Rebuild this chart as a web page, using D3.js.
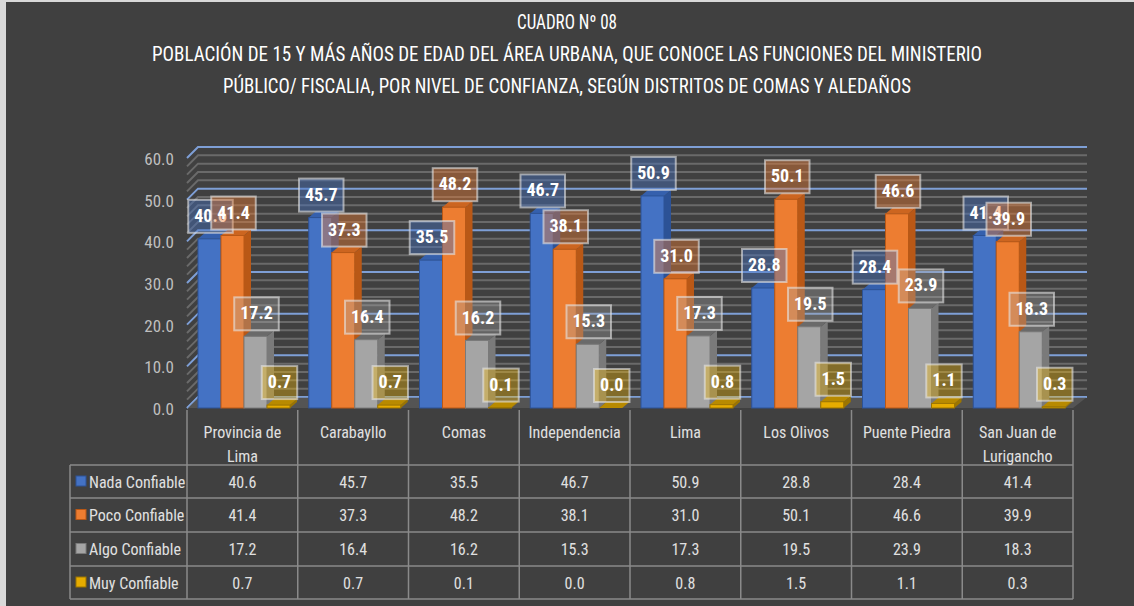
<!DOCTYPE html>
<html>
<head>
<meta charset="utf-8">
<script src="https://cdn.jsdelivr.net/npm/d3@7"></script>
<style>
  html, body { margin: 0; padding: 0; background: #ffffff; }
  svg text { font-family: "Liberation Sans Narrow", "Roboto Condensed", "Noto Sans", sans-serif; }
</style>
</head>
<body>
<div id="chart"></div>
<script>
// data
var categories = ["Provincia de Lima", "Carabayllo", "Comas", "Independencia", "Lima", "Los Olivos", "Puente Piedra", "San Juan de Lurigancho"];
var categoryLines = [["Provincia de", "Lima"], ["Carabayllo"], ["Comas"], ["Independencia"], ["Lima"], ["Los Olivos"], ["Puente Piedra"], ["San Juan de", "Lurigancho"]];
var seriesNames = ["Nada Confiable", "Poco Confiable", "Algo Confiable", "Muy Confiable"];
var nadaConfiable = [40.6, 45.7, 35.5, 46.7, 50.9, 28.8, 28.4, 41.4];
var pocoConfiable = [41.4, 37.3, 48.2, 38.1, 31.0, 50.1, 46.6, 39.9];
var algoConfiable = [17.2, 16.4, 16.2, 15.3, 17.3, 19.5, 23.9, 18.3];
var muyConfiable = [0.7, 0.7, 0.1, 0.0, 0.8, 1.5, 1.1, 0.3];
var yTicks = [0, 10, 20, 30, 40, 50, 60];
var titleLines = [
  "CUADRO Nº 08",
  "POBLACIÓN DE 15 Y MÁS AÑOS DE EDAD DEL ÁREA URBANA, QUE CONOCE LAS FUNCIONES DEL MINISTERIO",
  "PÚBLICO/ FISCALIA, POR NIVEL DE CONFIANZA, SEGÚN DISTRITOS DE COMAS Y ALEDAÑOS"
];

var seriesValues = [nadaConfiable, pocoConfiable, algoConfiable, muyConfiable];
var colors = [
  {front: "#4472c4", side: "#2c5296", top: "#3560ad", label: "rgba(68,114,196,0.42)"},
  {front: "#ed7d31", side: "#b95816", top: "#cc6520", label: "rgba(237,125,49,0.42)"},
  {front: "#a5a5a5", side: "#7a7a7a", top: "#6a6a6a", label: "rgba(165,165,165,0.35)"},
  {front: "#e6ac00", side: "#9c7500", top: "#b88a00", label: "rgba(255,192,0,0.35)"}
];

var width = 1134, height = 606;
var depthX = 11, depthY = -11;   // wall depth
var barDX = 7, barDY = -6;       // bar depth

var svg = d3.select("#chart").append("svg")
    .attr("width", width)
    .attr("height", height);

svg.append("rect")
    .attr("x", 0).attr("y", 0).attr("width", width).attr("height", height)
    .attr("fill", "#d9d9d9");
svg.append("rect")
    .attr("x", 6).attr("y", 2).attr("width", width - 6).attr("height", height - 2)
    .attr("fill", "#404040");

// title
var titleW = [100, 830, 688];
svg.selectAll(".title")
    .data(titleLines)
    .enter().append("text")
    .attr("class", "title")
    .attr("x", 567)
    .attr("y", function(d, i) { return 29 + i * 32; })
    .attr("text-anchor", "middle")
    .attr("fill", "#ffffff")
    .attr("font-size", 20)
    .attr("textLength", function(d, i) { return titleW[i]; })
    .attr("lengthAdjust", "spacingAndGlyphs")
    .text(function(d) { return d; });

var x = d3.scaleBand().domain(categories).range([187, 1073]);
var xSub = d3.scaleBand().domain(seriesNames).range([11, 11 + 92]);
var y = d3.scaleLinear().domain([0, 60]).range([408, 158]);

// walls: gridlines every 2, major every 10
var grid = d3.range(0, 61, 2);
var gridG = svg.append("g").attr("class", "grid");
gridG.selectAll("path")
    .data(grid)
    .enter().append("path")
    .attr("d", function(v) {
      var y0 = y(v);
      return "M187," + y0 + "L" + (187 + depthX) + "," + (y0 + depthY) + "L" + (1073 + 14) + "," + (y0 + depthY);
    })
    .attr("fill", "none")
    .attr("stroke", function(v) { return v % 10 === 0 ? "#7e9fd6" : "#6a6a6a"; })
    .attr("stroke-width", 2);

// floor
svg.append("path")
    .attr("d", "M187,408L1073,408L1087,397L198,397Z")
    .attr("fill", "#545454");
svg.append("line")
    .attr("x1", 198).attr("x2", 1087).attr("y1", 397).attr("y2", 397)
    .attr("stroke", "#7e9fd6").attr("stroke-width", 1.5);
svg.append("line")
    .attr("x1", 187).attr("x2", 198).attr("y1", 408).attr("y2", 397)
    .attr("stroke", "#7e9fd6").attr("stroke-width", 1.5);

// y axis labels
svg.selectAll(".ytick")
    .data(yTicks)
    .enter().append("text")
    .attr("class", "ytick")
    .attr("x", 174)
    .attr("y", function(v) { return y(v) + 7; })
    .attr("text-anchor", "end")
    .attr("fill", "#bfbfbf")
    .attr("font-size", 17)
    .text(function(v) { return v.toFixed(1); });

// bars
var bars = [];
seriesValues.forEach(function(vals, s) {
  vals.forEach(function(v, c) {
    bars.push({s: s, c: c, v: v});
  });
});

var barG = svg.append("g").attr("class", "bars");
var barW = xSub.bandwidth();
var bar = barG.selectAll("g")
    .data(bars)
    .enter().append("g");

function bx(d) { return x(categories[d.c]) + xSub(seriesNames[d.s]); }

bar.append("path")  // side
    .attr("d", function(d) {
      var x0 = bx(d) + barW, y0 = y(d.v), yb = y(0);
      return "M" + x0 + "," + yb + "L" + (x0 + barDX) + "," + (yb + barDY) +
             "L" + (x0 + barDX) + "," + (y0 + barDY) + "L" + x0 + "," + y0 + "Z";
    })
    .attr("fill", function(d) { return colors[d.s].side; });
bar.append("path")  // top
    .attr("d", function(d) {
      var x0 = bx(d), y0 = y(d.v);
      return "M" + x0 + "," + y0 + "L" + (x0 + barDX) + "," + (y0 + barDY) +
             "L" + (x0 + barW + barDX) + "," + (y0 + barDY) + "L" + (x0 + barW) + "," + y0 + "Z";
    })
    .attr("fill", function(d) { return colors[d.s].top; });
bar.append("rect")  // front
    .attr("x", bx)
    .attr("y", function(d) { return y(d.v); })
    .attr("width", barW)
    .attr("height", function(d) { return y(0) - y(d.v); })
    .attr("fill", function(d) { return colors[d.s].front; })
    .attr("stroke", function(d) { return colors[d.s].side; })
    .attr("stroke-width", 1);

// data labels (they overlap where the reference overlaps too)
var labG = svg.append("g").attr("class", "labels");
bars.forEach(function(d) {
  var g = labG.append("g");
  var t = g.append("text")
      .attr("x", bx(d) + barW / 2 + 1)
      .attr("y", y(d.v) - 6 - 11)
      .attr("text-anchor", "middle")
      .attr("fill", "#ffffff")
      .attr("font-weight", "bold")
      .attr("font-size", 18)
      .text(d.v.toFixed(1));
  var tw = t.node().getComputedTextLength() + 12;
  g.insert("rect", "text")
      .attr("x", bx(d) + barW / 2 + 1 - tw / 2)
      .attr("y", y(d.v) - 6 - 33)
      .attr("width", tw)
      .attr("height", 33)
      .attr("fill", colors[d.s].label)
      .attr("stroke", "rgba(230,230,230,0.6)")
      .attr("stroke-width", 2);
});

// data table
var tableG = svg.append("g").attr("class", "table");
var rowY = [465, 498, 532, 566, 599];
var lineColor = "#8a8a8a";
var colEdges = categories.map(function(c) { return x(c); }).concat([1073]);

tableG.selectAll(".vline")
    .data(colEdges)
    .enter().append("line")
    .attr("x1", function(d) { return d; })
    .attr("x2", function(d) { return d; })
    .attr("y1", 410).attr("y2", 599)
    .attr("stroke", lineColor).attr("stroke-width", 1.5);
tableG.append("line")
    .attr("x1", 70).attr("x2", 70).attr("y1", 465).attr("y2", 599)
    .attr("stroke", lineColor).attr("stroke-width", 1.5);
tableG.selectAll(".hline")
    .data(rowY)
    .enter().append("line")
    .attr("x1", 70).attr("x2", 1073)
    .attr("y1", function(d) { return d; })
    .attr("y2", function(d) { return d; })
    .attr("stroke", lineColor).attr("stroke-width", 1.5);

// header
categoryLines.forEach(function(lines, c) {
  var cx = x(categories[c]) + x.bandwidth() / 2;
  lines.forEach(function(l, i) {
    tableG.append("text")
        .attr("x", cx)
        .attr("y", 438 + i * 24)
        .attr("text-anchor", "middle")
        .attr("fill", "#e0e0e0")
        .attr("font-size", 16)
        .text(l);
  });
});

// rows
seriesNames.forEach(function(name, s) {
  var cy = (rowY[s] + rowY[s + 1]) / 2;
  tableG.append("rect")
      .attr("x", 76).attr("y", cy - 5.5)
      .attr("width", 10).attr("height", 10)
      .attr("fill", colors[s].front)
      .attr("stroke", colors[s].side);
  tableG.append("text")
      .attr("x", 89)
      .attr("y", cy + 6)
      .attr("fill", "#e0e0e0")
      .attr("font-size", 16)
      .text(name);
  seriesValues[s].forEach(function(v, c) {
    tableG.append("text")
        .attr("x", x(categories[c]) + x.bandwidth() / 2)
        .attr("y", cy + 6)
        .attr("text-anchor", "middle")
        .attr("fill", "#e0e0e0")
        .attr("font-size", 16)
        .text(v.toFixed(1));
  });
});
</script>
</body>
</html>
